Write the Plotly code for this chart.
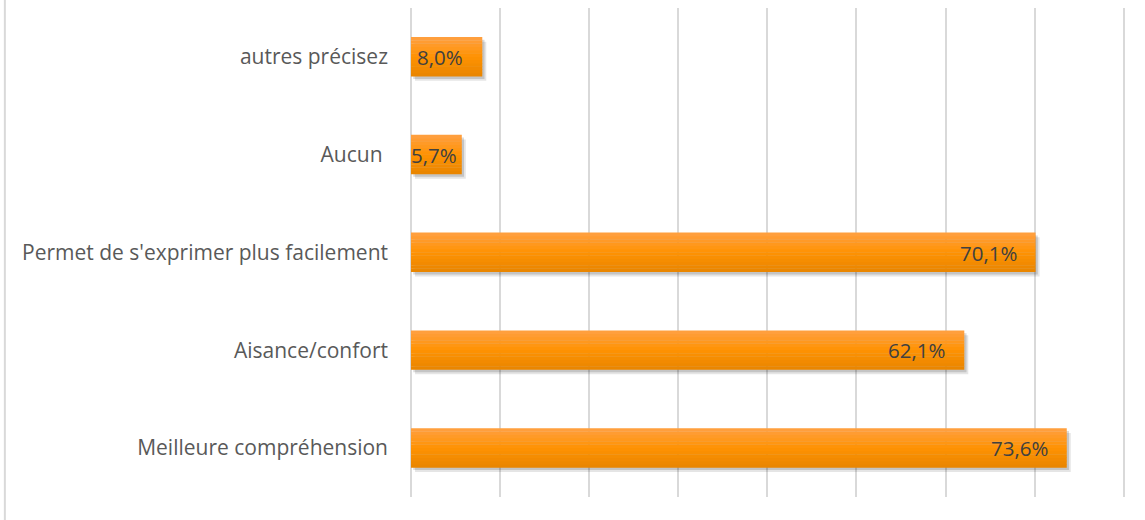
import plotly.graph_objects as go

# données (du bas vers le haut)
categories = ["Meilleure compréhension", "Aisance/confort",
              "Permet de s'exprimer plus facilement", "Aucun\u00a0", "autres précisez"]
values = [73.6, 62.1, 70.1, 5.7, 8.0]
labels = [f"{v:.1f}%".replace(".", ",") for v in values]

grid = "#D9D9D9"
text_col = "#595959"
font_fam = "Open Sans, Liberation Sans, sans-serif"

BAR_W = 0.4
N_STRIPS = 12
top_rgb, mid_rgb, bot_rgb = (255, 160, 66), (255, 146, 2), (232, 133, 0)


def mix(c1, c2, t):
    return "rgb(%d,%d,%d)" % tuple(round(a + (b - a) * t) for a, b in zip(c1, c2))


fig = go.Figure()

# ombre portée (deux couches pour adoucir)
for dx, dy, a in [(0.45, -0.045, 0.10), (0.25, -0.025, 0.14)]:
    fig.add_trace(go.Bar(
        y=categories, x=values, base=dx, orientation="h",
        width=BAR_W, offset=-BAR_W / 2 + dy,
        marker=dict(color=f"rgba(0,0,0,{a})", line=dict(width=0)),
        hoverinfo="skip", showlegend=False,
    ))

# barres en dégradé vertical (bandes superposées)
strip = BAR_W / N_STRIPS
for i in range(N_STRIPS):
    t = (i + 0.5) / N_STRIPS  # 0 = bas, 1 = haut
    col = mix(bot_rgb, mid_rgb, t * 2) if t < 0.5 else mix(mid_rgb, top_rgb, (t - 0.5) * 2)
    fig.add_trace(go.Bar(
        y=categories, x=values, orientation="h",
        width=strip * 1.1, offset=-BAR_W / 2 + i * strip,
        marker=dict(color=col, line=dict(width=0)),
        hoverinfo="skip" if i else None, showlegend=False,
    ))

# étiquettes de valeur à l'intérieur de la barre, côté extrémité
px_per_unit = 713 / 80
for cat, v, lab in zip(categories, values, labels):
    bar_px = v * px_per_unit
    pad = min(17, max(2, bar_px - 48))
    fig.add_annotation(
        x=v, y=cat, xref="x", yref="y", text=lab, showarrow=False,
        xanchor="right", xshift=-pad,
        font=dict(family=font_fam, size=20.5, color="#404040"),
    )

# bordure gauche du cadre
fig.add_shape(type="line", xref="paper", yref="paper",
              x0=-405 / 713, x1=-405 / 713, y0=-23 / 489, y1=1 + 8 / 489,
              line=dict(color="#D9D9D9", width=2))

fig.update_layout(
    width=1145, height=520,
    barmode="overlay",
    margin=dict(l=411, r=19, t=8, b=23),
    paper_bgcolor="white", plot_bgcolor="white",
    font=dict(family=font_fam, size=21, color=text_col),
    xaxis=dict(range=[0, 80.25], dtick=10, showticklabels=False,
               showgrid=True, gridcolor=grid, gridwidth=2,
               zeroline=True, zerolinecolor=grid, zerolinewidth=2,
               fixedrange=True),
    yaxis=dict(showgrid=False, ticks="", ticklabelstandoff=22,
               tickfont=dict(family=font_fam, size=21, color=text_col),
               fixedrange=True),
)

fig.write_html("out.html", config=dict(displayModeBar=False),
               post_script="document.body.style.margin='0';")
